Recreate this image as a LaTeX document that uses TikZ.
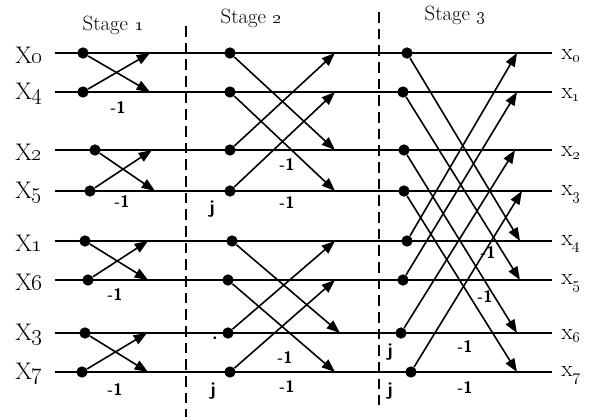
\documentclass[tikz,border=0pt]{standalone}
\usetikzlibrary{arrows.meta}
\begin{document}
\begin{tikzpicture}[x=0.75pt,y=-0.75pt,
  wire/.style={line width=1.2pt},
  bfly/.style={line width=1.2pt,-{Triangle[length=10pt,width=7.5pt]}},
  dotnode/.style={circle,fill,inner sep=0pt,minimum size=8.5pt},
  stagelbl/.style={inner sep=0pt,font=\fontsize{15.5}{18}\selectfont},
  inlbl/.style={anchor=east,inner sep=0pt,font=\fontsize{18}{21}\selectfont},
  outlbl/.style={anchor=west,inner sep=0pt,font=\fontsize{17.5}{20}\selectfont},
  neg/.style={inner sep=0pt,font=\sffamily\bfseries\fontsize{12.5}{14}\selectfont},
  jlbl/.style={inner sep=0pt,font=\sffamily\bfseries\fontsize{14}{16}\selectfont},
  sep/.style={line width=1.2pt,dash pattern=on 8pt off 4.5pt}
]
\useasboundingbox (0,0) rectangle (597,419);

% stage separators
\coordinate (sepAtop) at (186,26);
\coordinate (sepAbot) at (186,417);
\coordinate (sepBtop) at (379,12);
\coordinate (sepBbot) at (379,405);
\draw[sep] (sepAtop) -- (sepAbot);
\draw[sep] (sepBtop) -- (sepBbot);

% stage titles
\node[stagelbl] (st1) at (113,25) {Stage \oldstylenums{1}};
\node[stagelbl] (st2) at (251,18) {Stage \oldstylenums{2}};
\node[stagelbl] (st3) at (455,15) {Stage \oldstylenums{3}};

% rows: index / stage dots x / arrow tips x / y / input index
\foreach \i/\xa/\xb/\xc/\ta/\tb/\tc/\y/\n in {
  0/83/230/407/150/335/517/53/0,
  1/83/230/403/150/335/517/92/4,
  2/95/230/404/152/335/515/150/2,
  3/90/230/404/155/335/522/191/5,
  4/85/232/407/148/335/520/241/1,
  5/88/228/403/148/335/520/280/6,
  6/85/228/401/147/340/517/333/3,
  7/82/230/411/148/335/517/372/7}{
  \coordinate (w\i) at (55,\y);
  \coordinate (e\i) at (552,\y);
  \draw[wire] (w\i) -- (e\i);
  \node[inlbl] (in\i) at (43,\y+2) {X\oldstylenums{\n}};
  \node[outlbl] (out\i) at (561,\y+3) {x\textsubscript{\oldstylenums{\i}}};
  \node[dotnode] (d1\i) at (\xa,\y) {};
  \node[dotnode] (d2\i) at (\xb,\y) {};
  \node[dotnode] (d3\i) at (\xc,\y) {};
  \coordinate (t1\i) at (\ta,\y);
  \coordinate (t2\i) at (\tb,\y);
  \coordinate (t3\i) at (\tc,\y);
}

% stage 1 butterflies
\foreach \a/\b in {0/1,1/0,2/3,3/2,4/5,5/4,6/7,7/6}
  \draw[bfly] (d1\a) -- (t1\b);
% stage 2 butterflies
\foreach \a/\b in {0/2,2/0,1/3,3/1,4/6,6/4,5/7,7/5}
  \draw[bfly] (d2\a) -- (t2\b);
% stage 3 butterflies
\foreach \a/\b in {0/4,4/0,1/5,5/1,2/6,6/2,3/7,7/3}
  \draw[bfly] (d3\a) -- (t3\b);

% twiddle labels
\node[neg] (m11) at (118,108) {-1};
\node[neg] (m12) at (122,202) {-1};
\node[neg] (m13) at (115,295) {-1};
\node[neg] (m14) at (115,390) {-1};
\node[neg] (m21) at (287,165) {-1};
\node[neg] (m22) at (287,203) {-1};
\node[neg] (m23) at (285,358) {-1};
\node[neg] (m24) at (287,387) {-1};
\node[neg] (m31) at (488,253) {-1};
\node[neg] (m32) at (485,297) {-1};
\node[neg] (m33) at (465,347) {-1};
\node[neg] (m34) at (465,388) {-1};

\node[jlbl] (j1) at (212,209) {j};
\node[jlbl] (j2) at (213,391) {j};
\node[jlbl] (j3) at (390,352) {j};
\node[jlbl] (j4) at (390,391) {j};
\node[jlbl] (jdot) at (215,338) {.};
\end{tikzpicture}
\end{document}
